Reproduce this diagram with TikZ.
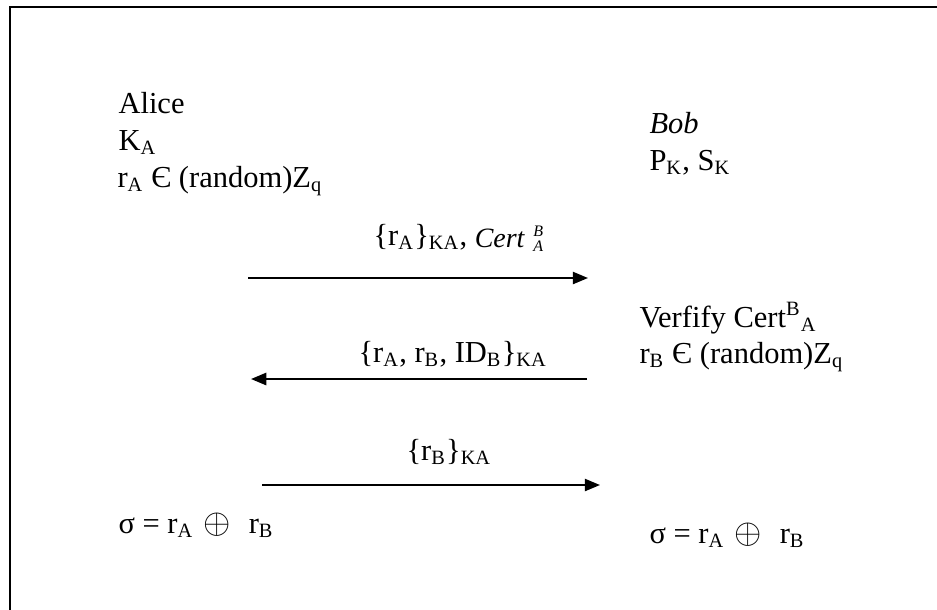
\documentclass[tikz,border=0pt]{standalone}
\usepackage{fontspec}
\setmainfont{Liberation Serif}
\usetikzlibrary{arrows.meta}
\newcommand{\mysb}[1]{\textsubscript{#1}}
\newcommand{\mysp}[1]{\textsuperscript{#1}}
\newcommand{\myox}{\raisebox{-0.3pt}{\scalebox{1.15}{$\oplus$}}}
\begin{document}
\begin{tikzpicture}[x=0.3934pt,y=-0.3934pt,
  txt/.style={anchor=base west,inner sep=0pt,font=\fontsize{12}{14}\selectfont},
  msg/.style={line width=0.8pt,-{Triangle[length=6pt,width=4.8pt]}}]
\useasboundingbox (0,0) rectangle (937,609);
\begin{scope}
\clip (0,0) rectangle (937,609);
\draw[line width=0.8pt] (10,640) -- (10,7) -- (960,7);
\end{scope}
% Alice
\node[txt] (alice) at (118,113) {Alice};
\node[txt] (ka) at (118,150) {K\mysb{A}};
\node[txt] (ra) at (117,187) {r\mysb{A} Є (random)Z\mysb{q}};
% Bob
\node[txt] (bob) at (649,133) {\textit{Bob}};
\node[txt] (pk) at (649,170) {P\mysb{K}, S\mysb{K}};
\node[txt] (ver) at (639,327) {Verfify Cert\mysp{B}\mysb{A}};
\node[txt] (rb) at (639,363) {r\mysb{B} Є (random)Z\mysb{q}};
% results
\node[txt] (sa) at (118,533) {σ = r\mysb{A}\hspace{4pt}\myox\hspace{7pt}r\mysb{B}};
\node[txt] (sb) at (649,543) {σ = r\mysb{A}\hspace{4pt}\myox\hspace{7pt}r\mysb{B}};
% arrows
\coordinate (m1s) at (248,278);
\coordinate (m1e) at (588,278);
\coordinate (m2s) at (587,379);
\coordinate (m2e) at (251,379);
\coordinate (m3s) at (262,485);
\coordinate (m3e) at (600,485);
\draw[msg] (m1s) -- (m1e);
\draw[msg] (m2s) -- (m2e);
\draw[msg] (m3s) -- (m3e);
% labels
\node[txt] (l1) at (373,245) {\{r\mysb{A}\}\mysb{KA}, \raisebox{-1.1pt}{{\fontsize{11}{13}\selectfont\textit{Cert}}\hspace{3.3pt}\rlap{\raisebox{4.4pt}{\fontsize{6.3}{7}\selectfont\textit{B}}}\raisebox{-1.3pt}{\fontsize{6.3}{7}\selectfont\textit{A}}}};
\node[txt] (l2) at (358,362) {\{r\mysb{A}, r\mysb{B}, ID\mysb{B}\}\mysb{KA}};
\node[txt] (l3) at (406,460) {\{r\mysb{B}\}\mysb{KA}};
\end{tikzpicture}
\end{document}
